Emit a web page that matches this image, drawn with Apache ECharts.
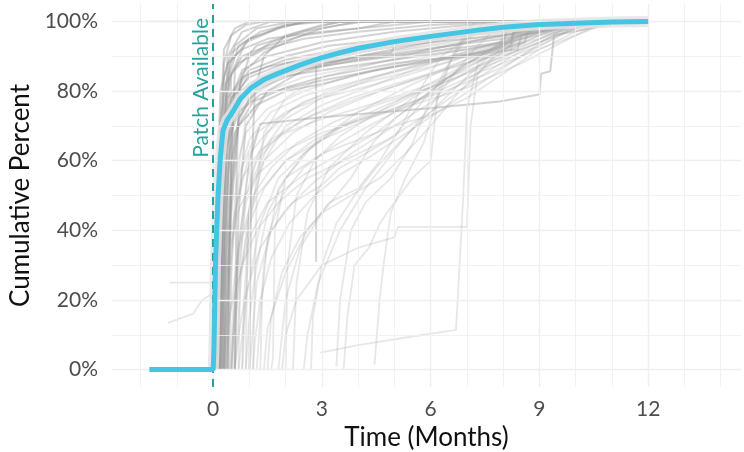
<!DOCTYPE html>
<html>
<head>
<meta charset="utf-8">
<script src="https://cdn.jsdelivr.net/npm/echarts@6/dist/echarts.min.js"></script>
<style>
  html, body { margin: 0; padding: 0; background: #fff; }
  #chart { width: 744px; height: 452px; }
</style>
</head>
<body>
<div id="chart"></div>
<script>
  // tick labels
  const xTicks = [0, 3, 6, 9, 12];
  const yTicks = [0, 20, 40, 60, 80, 100];
  const xGrid = [-2, -1, 0, 1, 2, 3, 4, 5, 6, 7, 8, 9, 10, 11, 12, 13, 14];
  const yGrid = [0, 10, 20, 30, 40, 50, 60, 70, 80, 90, 100];
  const patchMonth = 0;

  // mean cumulative curve [months, percent]
  const meanCurve = [
    [-1.76, 0], [0, 0], [0.02, 5], [0.066, 31], [0.13, 49], [0.2, 61], [0.27, 68.6],
    [0.38, 71.5], [0.54, 74], [0.75, 77.8], [1.06, 81], [1.4, 83.3], [1.78, 85],
    [2.4, 87.5], [3, 89.6], [3.5, 91], [4, 92.3], [5, 94.2], [6, 95.7], [7.3, 97.5],
    [8, 98.3], [9, 99.1], [10, 99.5], [11, 99.8], [12, 100]
  ];

  // individual curves, the heavier ones
  const darkRuns = [
    [[0.1, 0], [0.2, 55], [0.3, 88], [0.5, 96], [0.9, 99], [1.4, 100], [10.5, 100]],
    [[0.15, 0], [0.25, 40], [0.35, 82], [0.6, 93], [1.2, 98], [2.2, 100], [9, 100]],
    [[0.2, 0], [0.3, 65], [0.4, 90], [0.8, 97], [1.6, 100], [11, 100]],
    [[0.05, 0], [0.2, 70], [0.3, 92], [0.6, 98], [1.0, 100], [8, 100]],
    [[0.3, 0], [0.4, 50], [0.5, 85], [0.9, 94], [1.8, 98], [2.6, 100], [10, 100]],
    [[0.25, 0], [0.35, 75], [0.45, 88], [1.0, 95], [2.0, 99], [3.2, 100], [11, 100]],
    [[0.4, 0], [0.5, 60], [0.6, 86], [1.2, 93], [2.4, 97], [3.5, 100], [9.5, 100]],
    [[0.1, 0], [0.25, 45], [0.4, 75], [0.8, 86], [1.5, 90], [3, 94], [5, 97], [7, 99], [9, 100]],
    [[0.15, 0], [0.3, 50], [0.5, 78], [1, 84], [2, 88], [3.5, 91], [6, 95], [8, 97], [9.5, 100]],
    [[0.2, 0], [0.3, 35], [0.5, 70], [0.9, 80], [1.8, 84], [3, 86], [5, 89], [7, 92], [8.2, 94], [8.3, 98], [10, 100]],
    [[0.3, 0], [0.45, 40], [0.6, 68], [1.1, 77], [2, 81], [3, 84], [5, 88], [6.8, 90], [8.2, 93], [8.3, 97], [10.5, 100]],
    [[0.05, 0], [0.15, 30], [0.3, 62], [0.7, 74], [1.3, 79], [3, 83], [5, 87], [7, 90], [8.4, 92], [8.5, 96], [11, 100]],
    [[0.35, 0], [0.5, 45], [0.7, 72], [1.3, 82], [2.5, 87], [4, 90], [4.9, 91], [5.1, 94], [7, 96], [9, 99], [10, 100]],
    [[0.2, 0], [0.4, 55], [0.6, 78], [1.0, 85], [2, 89], [3, 91], [4.5, 93], [6.5, 96], [8, 98], [8.6, 100]],
    [[0.5, 0], [0.7, 35], [1.0, 60], [1.3, 70.6], [3, 72.5], [5.9, 75], [7.9, 77], [9.0, 79], [9.05, 85], [9.3, 85.7], [9.4, 96], [10.7, 98.6], [11.5, 100]],
    [[2.84, 31], [2.84, 88], [3.5, 90], [5, 93], [7, 96], [9, 99], [10, 100]],
    [[0.05, 0], [0.1, 50], [0.2, 80], [0.4, 88], [0.8, 92], [1.5, 95], [3, 97], [5, 99], [6, 100]],
    [[0.1, 0], [0.2, 40], [0.35, 70], [0.6, 80], [1, 86], [2, 90], [3.2, 93], [5, 95], [7, 97], [9, 99], [10, 100]],
    [[0.2, 0], [0.25, 50], [0.3, 75], [0.5, 85], [0.8, 90], [1.5, 93], [2.5, 96], [4, 98], [5, 100]],
    [[0.12, 0], [0.18, 35], [0.25, 65], [0.4, 78], [0.8, 84], [1.5, 87], [3, 90], [4.5, 92], [6, 94], [8, 96], [9.5, 98], [10.5, 100]],
    [[0.25, 0], [0.35, 30], [0.5, 60], [0.7, 70], [1.2, 76], [2, 80], [3, 82], [4.5, 86], [6, 89], [8, 92], [8.6, 94], [8.7, 98], [10.5, 100]],
    [[0.6, 0], [0.7, 45], [0.9, 70], [1.5, 80], [2.5, 86], [4, 90], [5.5, 93], [7, 96], [8, 98], [9, 100]],
    [[0.3, 0], [0.35, 60], [0.45, 85], [0.7, 93], [1.3, 97], [2, 99], [2.8, 100], [7, 100]],
    [[0.15, 0], [0.22, 60], [0.3, 84], [0.5, 91], [1, 95], [1.8, 98], [2.5, 100], [9, 100]],
    [[0.4, 0], [0.45, 40], [0.55, 72], [0.8, 85], [1.4, 91], [2.2, 95], [3, 98], [4, 100]],
    [[0.08, 0], [0.12, 45], [0.2, 72], [0.35, 82], [0.7, 88], [1.4, 92], [2.5, 95], [4, 97], [6, 99], [8, 100]],
    [[0.25, 0], [0.3, 42], [0.4, 66], [0.6, 76], [1, 82], [1.8, 86], [3, 88], [4.5, 90], [6.5, 93], [8, 95], [9.5, 98], [10.5, 100]],
    [[0.18, 0], [0.26, 48], [0.36, 70], [0.6, 79], [1.2, 83], [2.2, 86], [3.5, 88], [5, 90], [6.5, 92], [8, 94], [8.1, 97], [10, 100]],
    [[0.3, 0], [0.5, 52], [0.7, 72], [1.1, 80], [2, 84], [3, 87], [4, 89], [5.5, 91], [7, 94], [8.5, 97], [9.8, 100]],
    [[0.6, 0], [0.65, 60], [0.75, 82], [1, 90], [1.6, 94], [2.5, 97], [3.5, 99], [4.2, 100]],
    [[1.0, 0], [1.05, 55], [1.15, 80], [1.4, 90], [2, 96], [3, 99], [3.6, 100]]
  ];

  // individual curves, the fainter ones
  const lightRuns = [
    [[0.6, 0], [0.8, 30], [1.1, 55], [1.6, 66], [2.5, 72], [4, 78], [5.5, 83], [7, 88], [8.2, 91], [8.3, 96], [10, 99], [11, 100]],
    [[0.8, 0], [1.0, 40], [1.3, 62], [2, 72], [3, 78], [4.5, 84], [6, 88], [7.5, 92], [9, 95], [10.3, 100]],
    [[0.4, 0], [0.6, 50], [0.9, 72], [1.5, 80], [2.5, 84], [4, 87], [5.5, 90], [6.8, 93], [7, 97], [8, 100]],
    [[1.2, 0], [1.4, 30], [1.8, 52], [2.5, 62], [3.5, 70], [5, 77], [6.5, 83], [8, 90], [9.5, 96], [10.5, 100]],
    [[1.6, 0], [1.65, 3], [1.7, 40], [2, 55], [2.8, 65], [4, 74], [5.5, 82], [7, 89], [8.5, 95], [10, 100]],
    [[2.2, 0], [2.3, 25], [2.6, 45], [3.2, 58], [4.2, 68], [5.5, 78], [7, 87], [8.5, 94], [10, 100]],
    [[3.4, 1], [3.5, 20], [3.8, 40], [4.2, 48], [4.9, 55], [5.5, 65], [6, 78], [6.5, 88], [7, 95], [7.5, 100]],
    [[4.45, 1.4], [4.6, 21], [4.7, 30], [4.9, 45], [5.3, 55], [5.8, 65], [6.2, 78], [6.6, 90], [7, 98], [7.3, 100]],
    [[2.95, 4.9], [4, 7], [5.5, 9.5], [6.7, 11.4], [6.9, 50], [7, 75], [7.3, 88], [8, 95], [9, 100]],
    [[3.6, 0], [3.7, 15], [3.9, 30], [4.3, 35], [4.6, 42], [5, 48], [5.5, 55], [6, 60], [6.2, 80], [6.6, 90], [7, 96], [8, 100]],
    [[0.9, 0], [1.0, 15], [1.2, 30], [1.5, 45], [2, 55], [3, 62], [4, 66], [5, 70], [6, 73], [7, 78], [8, 85], [9, 92], [10, 97], [11, 100]],
    [[1.0, 0], [1.2, 25], [1.6, 40], [2.2, 48], [3, 53], [3.5, 58], [4.2, 62], [5, 67], [6, 80], [7, 88], [8, 93], [9, 97], [10, 100]],
    [[0.5, 0], [0.6, 20], [0.8, 38], [1.2, 50], [2, 60], [3, 66], [4.5, 73], [6, 79], [7.5, 86], [9, 92], [10.5, 98], [11, 100]],
    [[1.4, 0], [1.5, 12], [2, 28], [2.6, 40], [3.2, 48], [4, 52], [4.6, 60], [5.2, 70], [5.8, 82], [6.3, 90], [7, 95], [8, 100]],
    [[-1.25, 13.4], [-0.56, 16], [-0.3, 20], [0, 22], [0.2, 40], [0.5, 65], [1, 78], [2, 85], [4, 90], [7, 95], [10, 100]],
    [[-1.2, 25], [0, 25], [0.1, 30], [0.4, 60], [0.8, 75], [1.6, 84], [3, 88], [6, 93], [9, 97], [10.5, 100]],
    [[-1.8, 100], [11, 100]],
    [[0.3, 0], [0.4, 20], [0.6, 45], [1, 62], [1.8, 72], [2.5, 77], [4, 82], [6, 87], [8, 93], [9.5, 100]],
    [[0.7, 0], [0.9, 20], [1.3, 42], [1.8, 55], [2.6, 63], [3.6, 70], [5, 76], [6.5, 84], [8, 92], [9, 97], [9.8, 100]],
    [[0.15, 0], [0.3, 25], [0.55, 55], [0.9, 68], [1.5, 75], [2.5, 80], [4, 85], [6, 90], [8, 94], [10, 98], [11.5, 100]],
    [[1.1, 0], [1.2, 50], [1.4, 68], [2, 78], [3, 84], [4.5, 88], [6, 92], [7.5, 95], [9, 98], [10, 100]],
    [[0.45, 0], [0.6, 25], [0.9, 48], [1.4, 60], [2.2, 68], [3.2, 74], [4.6, 80], [6, 85], [7.2, 90], [8.5, 96], [9.5, 100]],
    [[1.8, 0], [2, 20], [2.4, 35], [3, 45], [3.8, 55], [4.4, 65], [5, 72], [6, 80], [7, 88], [8, 94], [9, 100]],
    [[2.5, 0], [2.6, 10], [2.9, 25], [3.5, 40], [4.2, 52], [5, 63], [5.8, 73], [6.5, 83], [7.2, 92], [8, 100]],
    [[0.35, 0], [0.5, 35], [0.8, 58], [1.2, 68], [2, 74], [3, 78], [4.5, 82], [5.8, 86], [7, 90], [7.9, 93], [8, 97], [9, 100]],
    [[1.9, 0], [2, 10], [2.3, 20], [3, 30], [4, 35], [5, 38], [5.1, 41], [7, 41], [7.1, 70], [7.3, 85], [8, 93], [9, 100]],
    [[0.5, 0], [0.55, 10], [0.7, 25], [1, 38], [1.5, 48], [2.5, 56], [3.5, 62], [4.5, 68], [5.5, 76], [6.5, 84], [7.5, 91], [8.5, 96], [9.5, 100]],
    [[0.8, 0], [0.85, 20], [1, 45], [1.4, 60], [2, 70], [3, 76], [4.5, 82], [6, 88], [7.5, 93], [9, 97], [10, 100]],
    [[0.2, 0], [0.3, 20], [0.5, 40], [0.8, 55], [1.3, 63], [2, 68], [3, 72], [4, 75], [5.2, 79], [6.5, 84], [8, 90], [9.5, 96], [10.5, 100]],
    [[0.35, 0], [0.45, 15], [0.7, 35], [1.1, 50], [1.6, 58], [2.3, 65], [3.3, 71], [4.5, 76], [6, 81], [7.5, 87], [9, 93], [10, 98], [10.8, 100]],
    [[0.6, 0], [0.7, 10], [0.9, 22], [1.3, 35], [2, 46], [2.8, 54], [3.8, 62], [5, 70], [6.2, 78], [7.4, 86], [8.6, 93], [9.8, 99], [10.2, 100]],
    [[0.45, 0], [0.5, 30], [0.7, 55], [1, 66], [1.6, 74], [2.6, 79], [4, 83], [5.5, 87], [7, 91], [8.5, 95], [10, 99], [10.6, 100]],
    [[0.1, 0], [0.2, 15], [0.4, 32], [0.7, 46], [1.2, 56], [2, 63], [3, 68], [4.2, 72], [5.5, 76], [7, 81], [8.5, 88], [10, 96], [10.8, 100]],
    [[1.3, 0], [1.35, 20], [1.5, 38], [1.9, 50], [2.5, 58], [3.3, 64], [4.3, 70], [5.4, 76], [6.6, 83], [7.8, 90], [9, 96], [10, 100]],
    [[0.7, 0], [0.75, 30], [0.9, 50], [1.2, 60], [1.8, 67], [2.7, 73], [3.8, 78], [5, 82], [6.3, 86], [7.6, 90], [8.8, 94], [9.7, 98], [10.4, 100]],
    [[1.5, 0], [1.6, 15], [1.9, 28], [2.4, 38], [3, 45], [3.8, 50], [4.6, 55], [5.3, 62], [6, 70], [6.8, 80], [7.6, 88], [8.4, 95], [9.2, 100]],
    [[0.9, 0], [0.95, 40], [1.1, 58], [1.5, 68], [2.2, 75], [3.2, 80], [4.4, 84], [5.8, 88], [7.2, 92], [8.5, 96], [9.6, 100]],
    [[2.0, 0], [2.05, 30], [2.3, 50], [2.8, 60], [3.5, 67], [4.4, 73], [5.4, 79], [6.5, 85], [7.5, 91], [8.5, 96], [9.3, 100]],
    [[0.3, 0], [0.35, 8], [0.5, 18], [0.8, 30], [1.2, 40], [1.8, 48], [2.6, 55], [3.6, 60], [4.8, 66], [6, 74], [7.2, 83], [8.4, 91], [9.6, 97], [10.4, 100]],
    [[0.55, 0], [0.6, 12], [0.75, 28], [1, 42], [1.4, 52], [2, 60], [2.8, 66], [3.8, 71], [5, 75], [6.4, 80], [7.8, 86], [9.2, 94], [10.2, 100]],
    [[2.7, 0], [2.75, 15], [3, 30], [3.4, 42], [3.9, 50], [4.5, 58], [5.2, 66], [6, 74], [6.8, 82], [7.6, 90], [8.4, 97], [8.8, 100]],
    [[1.1, 0], [1.15, 8], [1.3, 20], [1.6, 32], [2.1, 42], [2.8, 50], [3.5, 56], [4.3, 61], [5.2, 67], [6.2, 74], [7.2, 81], [8.2, 88], [9.2, 95], [10, 100]]
  ];

  const chart = echarts.init(document.getElementById('chart'));
  const font = 'Lato';
  const teal = '#23a39b';

  const series = [];

  // panel grid lines
  series.push({
    type: 'line', data: [], silent: true, z: 1,
    markLine: {
      silent: true, symbol: 'none', animation: false, label: { show: false },
      data: xGrid.map(v => ({
        xAxis: v,
        lineStyle: { type: 'solid', color: '#efefef', width: v % 3 === 0 ? 1.4 : 0.8 }
      })).concat(yGrid.map(v => ({
        yAxis: v,
        lineStyle: { type: 'solid', color: '#efefef', width: v % 20 === 0 ? 1.4 : 0.8 }
      })))
    }
  });

  darkRuns.forEach(run => series.push({
    type: 'line', data: run, symbol: 'none', silent: true, z: 2,
    lineStyle: { color: 'rgba(150,150,150,0.42)', width: 2 }
  }));
  lightRuns.forEach(run => series.push({
    type: 'line', data: run, symbol: 'none', silent: true, z: 2,
    lineStyle: { color: 'rgba(170,170,170,0.28)', width: 1.8 }
  }));

  // patch date
  series.push({
    type: 'line', data: [], silent: true, z: 3,
    markLine: {
      silent: true, symbol: 'none', animation: false,
      lineStyle: { type: [8, 6], color: teal, width: 2 },
      label: {
        show: true, position: 'insideEndTop', formatter: 'Patch Available',
        color: teal, fontFamily: font, fontSize: 21, distance: [14, 1]
      },
      data: [{ xAxis: patchMonth }]
    }
  });

  series.push({
    type: 'line', data: meanCurve.slice(1), symbol: 'none', silent: true, z: 4,
    lineStyle: { color: 'rgba(228,228,228,0.85)', width: 11 }
  });
  series.push({
    type: 'line', data: meanCurve, symbol: 'none', silent: true, z: 5,
    lineStyle: { color: '#44c5e3', width: 5 }
  });

  chart.setOption({
    animation: false,
    grid: { left: 112, right: 3, top: 4, bottom: 65, outerBoundsMode: 'none', containLabel: false },
    xAxis: {
      type: 'value', min: -2.79, max: 14.56,
      name: 'Time (Months)', nameLocation: 'middle', nameGap: 38,
      nameTextStyle: { fontFamily: font, fontSize: 26, color: '#111' },
      axisLine: { show: false }, axisTick: { show: false }, splitLine: { show: false },
      axisLabel: { customValues: xTicks, fontFamily: font, fontSize: 21, color: '#4d4d4d', margin: 12 }
    },
    yAxis: {
      type: 'value', min: -5, max: 105,
      name: 'Cumulative Percent', nameLocation: 'middle', nameGap: 70,
      nameTextStyle: { fontFamily: font, fontSize: 26, color: '#111' },
      axisLine: { show: false }, axisTick: { show: false }, splitLine: { show: false },
      axisLabel: {
        customValues: yTicks, fontFamily: font, fontSize: 21, color: '#4d4d4d', margin: 14,
        formatter: v => v + '%'
      }
    },
    series: series
  });
</script>
</body>
</html>
